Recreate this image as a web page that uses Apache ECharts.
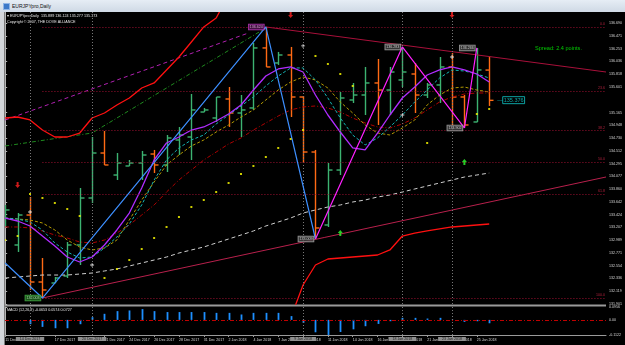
<!DOCTYPE html>
<html><head><meta charset="utf-8">
<script src="https://cdn.jsdelivr.net/npm/echarts@6/dist/echarts.min.js"></script>
<style>
html,body{margin:0;padding:0;background:#000;width:625px;height:345px;overflow:hidden;}
#chart{position:absolute;left:0;top:0;width:625px;height:345px;}
#titlebar{position:absolute;left:0;top:0;width:625px;height:12px;background:linear-gradient(#e6edf5,#cfd9e5);z-index:2;font:5px 'Liberation Sans',Arial,sans-serif;color:#111;}
#lstrip{position:absolute;left:0;top:12px;width:4px;height:333px;background:#d3d6da;z-index:2;border-right:1px solid #7d7d7d}
</style></head>
<body>
<div id="chart"></div>
<div id="titlebar"><span style="position:absolute;left:3px;top:3px;width:5px;height:5px;background:#3c78c8;border:1px solid #8fb4e6"></span><span style="position:absolute;left:12px;top:3px">EURJPYpro,Daily</span></div>
<div id="lstrip"></div>
<script>
// ---------------- data ----------------
const barDates = ['12 Dec','13 Dec','14 Dec','15 Dec','17 Dec','18 Dec','19 Dec','20 Dec','21 Dec','22 Dec','24 Dec','25 Dec','26 Dec','27 Dec','28 Dec','29 Dec','31 Dec','1 Jan','2 Jan','3 Jan','4 Jan','5 Jan','7 Jan','8 Jan','9 Jan','10 Jan','11 Jan','12 Jan','14 Jan','15 Jan','16 Jan','17 Jan','18 Jan','19 Jan','21 Jan','22 Jan','23 Jan','24 Jan','25 Jan','26 Jan'];
const opens  = [133.299,132.907,133.418,132.276,132.259,132.378,132.907,133.708,134.475,134.100,134.254,134.305,134.458,134.271,134.697,134.748,135.174,135.072,135.396,135.157,135.243,136.266,136.010,136.146,135.430,134.492,133.248,134.185,135.379,135.464,135.669,135.549,135.720,135.822,135.464,135.635,135.942,135.430,135.004,135.889];
const highs  = [133.589,133.452,133.725,132.685,132.361,132.958,133.879,134.748,134.850,134.475,134.356,134.510,134.527,134.782,134.919,135.481,135.243,135.430,135.600,135.464,136.351,136.624,136.198,136.283,135.447,134.527,134.305,135.515,135.669,135.942,136.078,135.942,136.283,136.010,135.669,136.112,136.180,135.464,136.266,136.124];
const lows   = [133.231,132.788,132.140,132.003,132.259,132.344,132.566,133.623,134.271,134.015,134.254,134.015,134.134,134.151,134.441,134.356,135.174,135.004,134.919,134.748,135.209,135.942,135.976,135.089,134.305,133.009,133.214,134.100,135.328,135.123,134.953,135.123,135.600,135.157,135.413,135.328,134.953,134.902,135.004,135.277];
const closes = [133.504,133.418,132.276,132.140,132.344,132.907,133.708,134.475,134.271,134.305,134.305,134.441,134.271,134.731,134.782,135.209,135.209,135.430,135.157,135.209,136.266,135.942,136.146,135.430,134.492,133.197,134.185,135.413,135.464,135.669,135.549,135.856,135.856,135.464,135.635,135.942,135.430,134.953,135.891,135.373];

const maFast   = [133.367,133.316,133.231,133.060,132.890,132.702,132.617,132.702,132.907,133.163,133.452,133.879,134.356,134.646,134.748,134.867,134.919,135.021,135.140,135.294,135.549,135.788,135.908,135.942,135.856,135.464,135.123,134.833,134.561,134.527,134.816,135.123,135.413,135.600,135.805,135.891,135.942,135.891,135.822,135.686];
const maCyan   = [133.367,133.350,133.299,133.163,132.941,132.788,132.685,132.702,132.856,133.043,133.265,133.589,134.015,134.356,134.561,134.697,134.782,134.970,135.123,135.277,135.430,135.618,135.788,135.925,135.925,135.720,135.413,135.072,134.782,134.612,134.731,134.919,135.123,135.345,135.549,135.754,135.891,135.873,135.822,135.754];
const maOlive  = [133.367,133.350,133.333,133.282,133.163,132.992,132.873,132.822,132.856,132.992,133.333,133.674,133.981,134.271,134.441,134.595,134.697,134.833,134.953,135.089,135.209,135.379,135.549,135.686,135.771,135.720,135.583,135.345,135.157,134.953,134.816,134.782,134.902,135.038,135.294,135.464,135.583,135.600,135.549,135.515];
const maDarkRed= [133.214,133.214,133.197,133.146,133.077,133.026,132.958,132.941,132.992,133.111,133.248,133.418,133.589,133.810,134.015,134.185,134.356,134.492,134.629,134.731,134.867,134.987,135.106,135.209,135.260,135.277,135.243,135.174,135.072,134.987,134.919,134.902,134.970,135.072,135.209,135.345,135.430,135.481,135.498,135.498];
const maGray   = [132.344,132.361,132.378,132.395,132.395,132.395,132.412,132.429,132.464,132.498,132.549,132.600,132.651,132.702,132.770,132.822,132.873,132.941,133.009,133.077,133.146,133.231,133.299,133.367,133.452,133.504,133.555,133.589,133.640,133.674,133.725,133.759,133.810,133.862,133.913,133.964,134.015,134.066,134.100,134.134];
const redBand  = [135.072,135.089,135.038,134.867,134.748,134.748,134.816,135.072,135.157,135.294,135.413,135.583,135.669,135.891,136.112,136.368,136.624,136.777,137.169,null,null,null,null,131.662,132.225,132.566,132.668,132.685,132.702,132.719,132.736,132.822,133.060,133.111,133.146,133.180,133.214,133.231,133.248,133.265];
const psar     = [132.992,133.060,133.776,133.708,133.623,133.521,133.401,null,132.344,132.498,132.651,132.839,133.026,133.214,133.384,133.555,133.674,133.810,133.964,134.117,134.254,134.407,134.561,134.714,134.867,136.129,135.993,135.822,135.618,null,null,null,null,null,134.646,null,null,null,135.140,135.226];
const macdHist = [null,null,-0.032,-0.052,-0.062,-0.062,-0.032,0.020,0.045,0.065,0.070,0.080,0.065,0.058,0.058,0.058,0.058,0.052,0.052,0.040,0.052,0.052,0.052,0.028,-0.022,-0.092,-0.112,-0.090,-0.070,-0.047,-0.030,-0.010,0.015,0.015,0.010,0.015,0.002,-0.015,-0.010,-0.025];

const zigzagBlue = [[0,132.600],[3,132.003],[21,136.624],[25,133.009]];
const zigzagPink = [[25,133.009],[32,136.283],[37,134.902],[38,136.266]];
const trendUpper   = [[21,136.624],[48.41,135.856]];
const trendLower   = [[3,132.003],[48.41,134.066]];
const trendMagenta = [[0,135.038],[19.6,136.521]];
const trendGreen   = [[0,134.595],[7,134.816],[21,136.607]];
const fibLevels = [0, 23.6, 38.2, 50.0, 61.8, 100.0];
const fibHigh = 136.624, fibLow = 132.003, fibStartIdx = 3;

const downArrows = [[1,133.930],[23,136.828],[36,136.828]];
const upArrows   = [[27,133.111],[37,134.322]];
const crosses    = [[2,133.469],[7,132.566],[24,136.300],[32,135.123],[36,136.112]];

const vlineIdx  = [2,7,24,32,36];
const vlineText = ['14 Dec 2017','20 Dec 2017','9 Jan 2018','18 Jan 2018','23 Jan 2018'];

const priceTicks = [136.690,136.471,136.253,136.036,135.818,135.601,135.165,134.948,134.730,134.512,134.295,134.077,133.860,133.642,133.424,133.207,132.989,132.771,132.554,132.336,132.119,131.901];
const macdTicks = [0.0956, 0, -0.1122];
const macdTickText = ['0.0956','0.00','-0.1122'];
const dateTickIdx = [0,4,8,10,12,14,16,18,20,22,24,26,28,30,32,34,36,38];
const dateTickText = ['11 Dec 2017','17 Dec 2017','21 Dec 2017','24 Dec 2017','26 Dec 2017','28 Dec 2017','31 Dec 2017','2 Jan 2018','4 Jan 2018','7 Jan 2018','9 Jan 2018','11 Jan 2018','14 Jan 2018','16 Jan 2018','18 Jan 2018','21 Jan 2018','23 Jan 2018','25 Jan 2018'];
const currentPrice = 135.376;

// ---------------- chart ----------------
const X_MIN = -0.016, X_MAX = 48.41;
const Y_MIN = 131.901, Y_MAX = 136.879;
const FONT = "'Liberation Sans', Arial, sans-serif";
const BULL = '#3cb371', BEAR = '#ff6a14';

const ohlc = barDates.map((d,i)=>[i, opens[i], highs[i], lows[i], closes[i]]);
const pts = arr => arr.map((v,i)=>[i, v==null ? '-' : v]);
const macdData = macdHist.map((v,i)=>[i,v]).filter(p=>p[1]!=null);
const psarData = psar.map((v,i)=>[i,v]).filter(p=>p[1]!=null);

function renderBar(params, api){
  const i=api.value(0), o=api.value(1), h=api.value(2), l=api.value(3), c=api.value(4);
  const ph=api.coord([i,h]), pl=api.coord([i,l]), po=api.coord([i,o]), pc=api.coord([i,c]);
  const x=Math.round(ph[0])+0.5;
  const st={stroke: c>=o?BULL:BEAR, lineWidth:1.4};
  return {type:'group', children:[
    {type:'line', shape:{x1:x,y1:ph[1],x2:x,y2:pl[1]}, style:st},
    {type:'line', shape:{x1:x-4,y1:po[1],x2:x,y2:po[1]}, style:st},
    {type:'line', shape:{x1:x,y1:pc[1],x2:x+4,y2:pc[1]}, style:st}
  ]};
}
function renderHist(params, api){
  const i=api.value(0), v=api.value(1);
  const p0=api.coord([i,0]), p1=api.coord([i,v]);
  const x=Math.round(p0[0])+0.5;
  return {type:'line', shape:{x1:x,y1:p0[1],x2:x,y2:p1[1]}, style:{stroke:'#1e90ff', lineWidth:1.8}};
}
const lineS = (name, data, color, width, type, z) => ({
  type:'line', name, data, xAxisIndex:0, yAxisIndex:0, showSymbol:false, symbol:'none',
  connectNulls:false, silent:true, z: z||3,
  lineStyle:{color, width, type: type||'solid'}
});

const pivots = zigzagBlue.slice(1).concat(zigzagPink.slice(1));
const pivotStyle = [
  {bg:'#1c5e1c', bd:'#4fc04f', fg:'#c8ffc8'},
  {bg:'#4a124a', bd:'#d040d0', fg:'#f0c0f0'},
  {bg:'#3a3a3a', bd:'#bdbdbd', fg:'#e8e8e8'},
  {bg:'#3a3a3a', bd:'#bdbdbd', fg:'#e8e8e8'},
  {bg:'#3a3a3a', bd:'#bdbdbd', fg:'#e8e8e8'},
  {bg:'#3a3a3a', bd:'#bdbdbd', fg:'#e8e8e8'}
];

const fibRange = fibHigh - fibLow;
const fibLines = fibLevels.map(l => {
  const p = fibHigh - fibRange*l/100;
  return [{coord:[fibStartIdx,p], label:{formatter: l.toFixed(1)}}, {coord:[X_MAX,p]}];
});

const chart = echarts.init(document.getElementById('chart'), null, {renderer:'canvas'});
chart.setOption({
  animation:false,
  backgroundColor:'#000',
  textStyle:{fontFamily:FONT},
  grid:[
    {left:5, right:19, top:12, height:292},
    {left:5, right:19, top:307, height:28}
  ],
  xAxis:[
    {gridIndex:0, type:'value', min:X_MIN, max:X_MAX, show:false},
    {gridIndex:1, type:'value', min:X_MIN, max:X_MAX,
      axisLine:{show:true, onZero:false, lineStyle:{color:'#9a9a9a', width:1}},
      axisTick:{show:true, customValues:dateTickIdx, length:2, lineStyle:{color:'#9a9a9a'}},
      splitLine:{show:false},
      axisLabel:{customValues:dateTickIdx, align:'left', fontSize:3.6, color:'#d8d8d8', margin:3,
        formatter: v => { const k = dateTickIdx.indexOf(v); return k<0?'':dateTickText[k]; }}
    }
  ],
  yAxis:[
    {gridIndex:0, type:'value', position:'right', min:Y_MIN, max:Y_MAX,
      axisLine:{show:true, lineStyle:{color:'#b4b4b4'}},
      axisTick:{show:true, customValues:priceTicks, length:2, lineStyle:{color:'#b4b4b4'}},
      splitLine:{show:false},
      axisLabel:{customValues:priceTicks, fontSize:3.6, color:'#d8d8d8', margin:3, formatter: v=>v.toFixed(3)}
    },
    {gridIndex:1, type:'value', position:'right', min:-0.1122, max:0.0956,
      axisLine:{show:true, lineStyle:{color:'#b4b4b4'}},
      axisTick:{show:true, customValues:macdTicks, length:2, lineStyle:{color:'#b4b4b4'}},
      splitLine:{show:false},
      axisLabel:{customValues:macdTicks, fontSize:3.6, color:'#d8d8d8', margin:3,
        formatter: v => { const k = macdTicks.indexOf(v); return k<0?'':macdTickText[k]; }}
    }
  ],
  graphic:[
    {type:'rect', shape:{x:5, y:304.5, width:601, height:2}, style:{fill:'#9a9a9a'}, silent:true},
    {type:'text', x:7, y:13.5, style:{text:'\u25BE EURJPYpro,Daily  135.889 136.124 135.277 135.373', fill:'#e6e6e6', font:'3.7px '+FONT}},
    {type:'text', x:7, y:19.5, style:{text:'Copyright \u00A9 2007, THE DOVE ALLIANCE', fill:'#e6e6e6', font:'3.7px '+FONT}},
    {type:'text', x:535, y:45, style:{text:'Spread: 2.4 points.', fill:'#00cc00', font:'5.6px '+FONT}},
    {type:'text', x:7, y:308, style:{text:'MACD (12,26,9) -0.0653 0.0574 0.0727', fill:'#e6e6e6', font:'3.7px '+FONT}}
  ],
  series:[
    {type:'custom', name:'bars', renderItem:renderBar, data:ohlc, encode:{x:0,y:[1,2,3,4]}, clip:true, z:2, silent:true,
      markLine:{silent:true, symbol:['none','none'], animation:false,
        lineStyle:{color:'#777', type:[1,2], width:1}, label:{show:false},
        data: vlineIdx.map(i=>({xAxis:i}))}
    },
    Object.assign(lineS('fib', trendLower, '#b8204c', 1), {
      markLine:{silent:true, symbol:['none','none'], animation:false,
        lineStyle:{color:'#9c1030', type:[1,2], width:1},
        label:{show:true, position:'insideEndTop', color:'#b0203c', fontSize:3.6, distance:1},
        data: fibLines}
    }),
    lineS('trendUpper', trendUpper, '#a8103a', 1),
    lineS('trendMagenta', trendMagenta, '#b020b0', 1, [4,3]),
    lineS('trendGreen', trendGreen, '#1f8a1f', 1, [4,2,1,2]),
    lineS('maGray', pts(maGray), '#cfcfcf', 1, [4,3]),
    lineS('maDarkRed', pts(maDarkRed), '#b00000', 1, [4,2,1,2]),
    lineS('maOlive', pts(maOlive), '#b39a00', 1, [3,2]),
    lineS('maCyan', pts(maCyan), '#14b4b4', 1, [3,2]),
    Object.assign(lineS('maFast', pts(maFast), '#b02cff', 1.3), {
      markLine:{silent:true, symbol:['none','none'], animation:false,
        lineStyle:{opacity:0},
        label:{show:true, position:'end', distance:1, formatter: currentPrice.toFixed(3),
          backgroundColor:'#ffffff', color:'#000', fontSize:3.6, padding:[1,2,0,2]},
        data:[{yAxis:currentPrice}]}
    }),
    lineS('redBand', pts(redBand), '#ff1010', 1.3),
    lineS('zigzagBlue', zigzagBlue, '#3d8fff', 1.2, 'solid', 5),
    lineS('zigzagPink', zigzagPink, '#ff20ff', 1.2, 'solid', 5),
    {type:'scatter', name:'psar', data:psarData, symbol:'rect', symbolSize:2, itemStyle:{color:'#ffff00'}, silent:true, z:6},
    {type:'scatter', name:'down', data:downArrows, symbol:'path://M3,0 H7 V6 H10 L5,12 L0,6 H3 Z', symbolSize:[5,6], itemStyle:{color:'#ff2020'}, silent:true, z:6},
    {type:'scatter', name:'up', data:upArrows, symbol:'path://M5,0 L10,6 H7 V12 H3 V6 H0 Z', symbolSize:[5,6], itemStyle:{color:'#30ff30'}, silent:true, z:6},
    {type:'scatter', name:'cross', data:crosses, symbol:'path://M4,0 H6 V4 H10 V6 H6 V10 H4 V6 H0 V4 H4 Z', symbolSize:4, itemStyle:{color:'#ffffff'}, silent:true, z:6},
    {type:'scatter', name:'pivots', silent:true, z:7, symbolSize:0,
      data: pivots.map((p,k)=>({value:p, label:{backgroundColor:pivotStyle[k].bg, borderColor:pivotStyle[k].bd, color:pivotStyle[k].fg}})),
      label:{show:true, position:'left', distance:2, fontSize:3.6, borderWidth:0.8, padding:[1,1,0,1],
        formatter: p => p.value[1].toFixed(3)}
    },
    {type:'scatter', name:'lastPrice', silent:true, z:7, symbolSize:0, data:[[39,currentPrice]],
      label:{show:true, position:'right', distance:8, formatter:'{d|\u2014}{b|'+currentPrice.toFixed(3)+'}',
        rich:{d:{color:'#10c8c8', fontSize:5.5}, b:{color:'#10d0d0', borderColor:'#10c8c8', borderWidth:1, padding:[1,1,0,1], fontSize:5.5}}}
    },
    {type:'custom', name:'macd', xAxisIndex:1, yAxisIndex:1, renderItem:renderHist, data:macdData, encode:{x:0,y:1}, clip:true, silent:true, z:3,
      markLine:{silent:true, symbol:['none','none'], animation:false,
        data:[
          {yAxis:0, lineStyle:{color:'#c00000', type:[4,2,1,2], width:1}, label:{show:false}},
          ...vlineIdx.map((i,k)=>({xAxis:i, lineStyle:{color:'#777', type:[1,2], width:1},
            label:{show:true, position:'start', distance:2, formatter:vlineText[k], backgroundColor:'#8e8e8e', color:'#202020', fontSize:3.6, padding:[0,4]}}))
        ]}
    }
  ]
});
</script>
</body></html>
